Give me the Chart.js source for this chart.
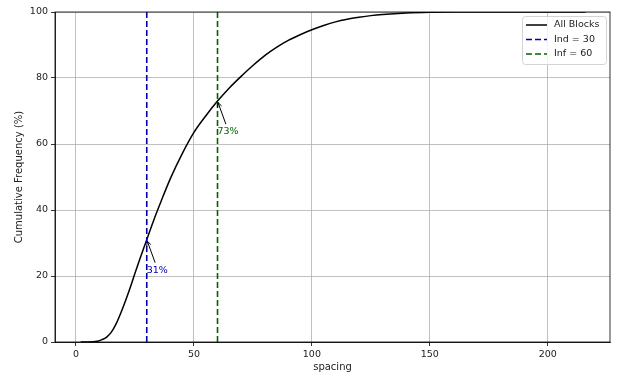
<!DOCTYPE html>
<html>
<head>
<meta charset="utf-8">
<title>Cumulative frequency of spacing</title>
<script src="https://cdn.jsdelivr.net/npm/chart.js"></script>
<style>
  html, body { margin: 0; padding: 0; background: #fff; }
</style>
</head>
<body>
<canvas id="cdfChart" width="618" height="378"></canvas>
<script>
// curve: spacing -> cumulative frequency (%)
const spacing = [2, 5, 9, 11, 13, 15, 17, 19, 21, 23, 25, 27, 30, 33, 36, 40, 45, 50, 55, 60,
                 65, 70, 75, 80, 85, 90, 95, 100, 105, 110, 115, 120, 125, 130, 140, 150, 160, 180, 200, 216];
const cumFreq = [0, 0, 0.2, 0.7, 1.5, 3, 5.5, 8.8, 12.5, 16.5, 20.8, 25, 31, 37, 42.5, 49.5, 57, 63.5, 68.5, 73,
                 77, 80.5, 83.8, 86.8, 89.3, 91.4, 93.1, 94.6, 95.9, 97, 97.8, 98.4, 98.9, 99.25, 99.7, 99.92, 100, 100, 100, 100];

// threshold lines and the % read at each
const thresholds = [30, 60];
const thresholdLabels = ['Ind = 30', 'Inf = 60'];
const thresholdPct = [31, 73];
const pctLabels = ['31%', '73%'];

const xTicks = [0, 50, 100, 150, 200];
const yTicks = [0, 20, 40, 60, 80, 100];

const FONT = 'DejaVu Sans';

// box around the whole plot (top and right spines too)
const frame = {
  id: 'frame',
  afterDraw(chart) {
    const {ctx, chartArea: a} = chart;
    ctx.save();
    ctx.strokeStyle = '#000';
    ctx.lineWidth = 0.8;
    ctx.strokeRect(a.left, a.top, a.right - a.left, a.bottom - a.top);
    ctx.restore();
  }
};

// "31%" / "73%" labels with small arrows pointing at the crossing
const pctNotes = {
  id: 'pctNotes',
  afterDatasetsDraw(chart) {
    const {ctx, scales: {x, y}} = chart;
    ctx.save();
    ctx.font = '9.5px "' + FONT + '"';
    thresholds.forEach((t, i) => {
      const px = x.getPixelForValue(t);
      const py = y.getPixelForValue(thresholdPct[i]);
      const tx = px;
      const ty = y.getPixelForValue(thresholdPct[i] - 10);
      ctx.fillStyle = chart.data.datasets[i + 1].borderColor;
      ctx.textAlign = 'left';
      ctx.textBaseline = 'alphabetic';
      ctx.fillText(pctLabels[i], tx, ty);

      const tw = ctx.measureText(pctLabels[i]).width;
      const cx = tx + tw / 2, cy = ty - 4, top = ty - 8;
      const dx = px - cx, dy = py - cy;
      const k = (top - 2 - cy) / dy;
      const sx = cx + dx * k, sy = top - 2;
      const len = Math.hypot(px - sx, py - sy);
      const ux = (px - sx) / len, uy = (py - sy) / len;
      const ex = px - ux * 1.5, ey = py - uy * 1.5;

      ctx.strokeStyle = '#000';
      ctx.lineWidth = 1;
      ctx.beginPath();
      ctx.moveTo(sx, sy);
      ctx.lineTo(ex, ey);
      const ang = Math.atan2(uy, ux), h = 5, spread = 0.45;
      ctx.moveTo(ex - h * Math.cos(ang - spread), ey - h * Math.sin(ang - spread));
      ctx.lineTo(ex, ey);
      ctx.lineTo(ex - h * Math.cos(ang + spread), ey - h * Math.sin(ang + spread));
      ctx.stroke();
    });
    ctx.restore();
  }
};

// legend drawn inside the plot, top right, matplotlib style
const boxLegend = {
  id: 'boxLegend',
  afterDraw(chart) {
    const {ctx, chartArea: a} = chart;
    const w = 84, h = 48, rowH = 14.5;
    const x0 = a.right - 4 - w, y0 = a.top + 4;
    ctx.save();
    ctx.beginPath();
    ctx.roundRect(x0 + 0.5, y0 + 0.5, w, h, 3);
    ctx.fillStyle = 'rgba(255,255,255,0.8)';
    ctx.fill();
    ctx.strokeStyle = '#d4d4d4';
    ctx.lineWidth = 1;
    ctx.stroke();
    ctx.font = '9.5px "' + FONT + '"';
    ctx.textBaseline = 'middle';
    chart.data.datasets.forEach((ds, i) => {
      const cy = y0 + 9 + i * rowH;
      ctx.beginPath();
      ctx.setLineDash(ds.borderDash || []);
      ctx.strokeStyle = ds.borderColor;
      ctx.lineWidth = 1.5;
      ctx.moveTo(x0 + 4, cy);
      ctx.lineTo(x0 + 25, cy);
      ctx.stroke();
      ctx.setLineDash([]);
      ctx.fillStyle = '#222';
      ctx.fillText(ds.label, x0 + 32, cy);
    });
    ctx.restore();
  }
};

const curve = spacing.map((s, i) => ({x: s, y: cumFreq[i]}));
const vline = t => [{x: t, y: 0}, {x: t, y: 100}];

const myChart = new Chart(document.getElementById('cdfChart'), {
  type: 'scatter',
  data: {
    datasets: [
      {
        label: 'All Blocks',
        data: curve,
        showLine: true,
        borderColor: '#000',
        borderWidth: 1.5,
        pointRadius: 0,
        cubicInterpolationMode: 'monotone',
        order: 2
      },
      {
        label: thresholdLabels[0],
        data: vline(thresholds[0]),
        showLine: true,
        borderColor: '#0000aa',
        borderWidth: 1.6,
        borderDash: [6, 3],
        pointRadius: 0,
        order: 1
      },
      {
        label: thresholdLabels[1],
        data: vline(thresholds[1]),
        showLine: true,
        borderColor: '#006400',
        borderWidth: 1.6,
        borderDash: [6, 3],
        pointRadius: 0,
        order: 0
      }
    ]
  },
  options: {
    responsive: false,
    animation: false,
    layout: {padding: {top: 12, right: 8, left: 0, bottom: 0}},
    plugins: {
      legend: {display: false},
      tooltip: {enabled: false}
    },
    scales: {
      x: {
        type: 'linear',
        min: -8.9,
        max: 226.4,
        afterBuildTicks: s => { s.ticks = xTicks.map(v => ({value: v})); },
        afterFit: s => { s.height = 36; },
        grid: {color: '#b0b0b0', lineWidth: 0.8, tickColor: '#000', tickLength: 4, tickWidth: 0.8},
        border: {color: '#000', width: 0.8},
        ticks: {color: '#222', font: {family: FONT, size: 9.5}, padding: 3, maxRotation: 0},
        title: {display: true, text: 'spacing', color: '#222', font: {family: FONT, size: 10}, padding: {top: 0, bottom: 5}}
      },
      y: {
        type: 'linear',
        min: 0,
        max: 100,
        afterBuildTicks: s => { s.ticks = yTicks.map(v => ({value: v})); },
        afterFit: s => { s.width = 55; },
        grid: {color: '#b0b0b0', lineWidth: 0.8, tickColor: '#000', tickLength: 4, tickWidth: 0.8},
        border: {color: '#000', width: 0.8},
        ticks: {color: '#222', font: {family: FONT, size: 9.5}, padding: 3},
        title: {display: true, text: 'Cumulative Frequency (%)', color: '#222', font: {family: FONT, size: 10}, padding: {top: 13, bottom: 0}}
      }
    }
  },
  plugins: [frame, pctNotes, boxLegend]
});
</script>
</body>
</html>
